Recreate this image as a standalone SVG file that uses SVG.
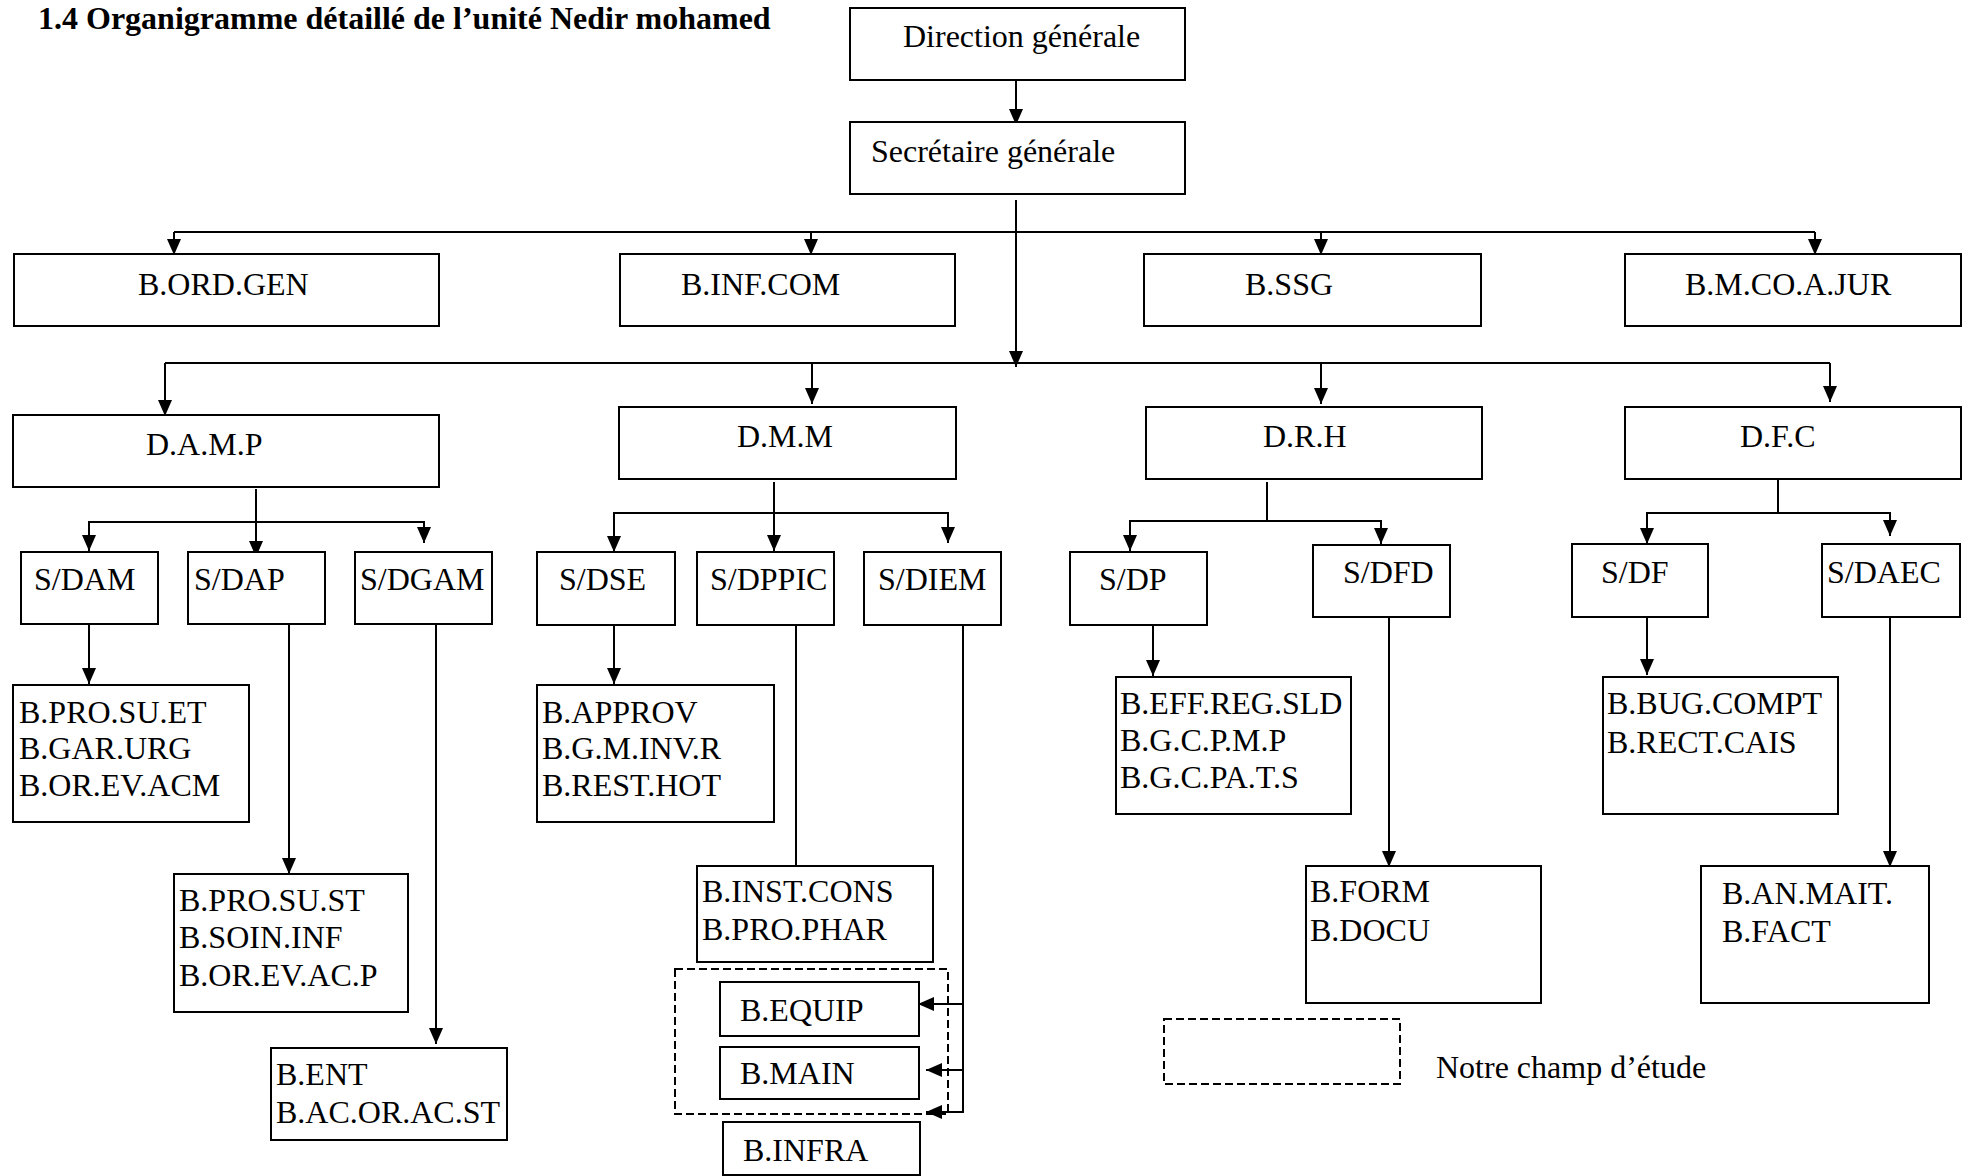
<svg xmlns="http://www.w3.org/2000/svg" width="1969" height="1176" viewBox="0 0 1969 1176">
<style>
  .box { fill: #ffffff; stroke: #000000; stroke-width: 2; }
  .dash { fill: none; stroke: #000000; stroke-width: 2; stroke-dasharray: 8 4; }
  .t { font-family: "Liberation Serif", "Times New Roman", serif; font-size: 32px; fill: #000000; }
  .title { font-family: "Liberation Serif", "Times New Roman", serif; font-size: 32px; font-weight: bold; fill: #000000; }
  .ln { fill: none; stroke: #000000; stroke-width: 2; }
  .arr { fill: none; stroke: #000000; stroke-width: 2; marker-end: url(#ah); }
</style>
<defs>
  <marker id="ah" markerUnits="userSpaceOnUse" markerWidth="16" markerHeight="14" viewBox="0 0 16 14" refX="16" refY="7" orient="auto">
    <path d="M0,0 L16,7 L0,14 Z" fill="#000000"/>
  </marker>
</defs>
<rect width="1969" height="1176" fill="#ffffff"/>

<text class="title" x="38" y="29">1.4 Organigramme détaillé de l’unité Nedir mohamed</text>

<g id="connectors">
  <line class="arr" x1="1016" y1="80" x2="1016" y2="125"/>
  <line class="arr" x1="1016" y1="200" x2="1016" y2="367"/>
  <polyline class="ln" points="174,232 1815,232"/>
  <line class="arr" x1="174" y1="232" x2="174" y2="255"/>
  <line class="arr" x1="811" y1="232" x2="811" y2="255"/>
  <line class="arr" x1="1321" y1="232" x2="1321" y2="255"/>
  <line class="arr" x1="1815" y1="232" x2="1815" y2="255"/>
  <polyline class="ln" points="165,363 1830,363"/>
  <line class="arr" x1="165" y1="363" x2="165" y2="416"/>
  <line class="arr" x1="812" y1="363" x2="812" y2="404"/>
  <line class="arr" x1="1321" y1="363" x2="1321" y2="404"/>
  <line class="arr" x1="1830" y1="363" x2="1830" y2="402"/>

  <line class="arr" x1="256" y1="489" x2="256" y2="557"/>
  <polyline class="ln" points="89,540 89,522 424,522 424,532"/>
  <line class="arr" x1="89" y1="530" x2="89" y2="551"/>
  <line class="arr" x1="424" y1="526" x2="424" y2="543"/>
  <line class="arr" x1="89" y1="624" x2="89" y2="684"/>
  <line class="arr" x1="289" y1="624" x2="289" y2="874"/>
  <line class="arr" x1="436" y1="624" x2="436" y2="1044"/>

  <line class="arr" x1="774" y1="482" x2="774" y2="551"/>
  <polyline class="ln" points="614,530 614,513 948,513 948,522"/>
  <line class="arr" x1="614" y1="525" x2="614" y2="552"/>
  <line class="arr" x1="948" y1="518" x2="948" y2="543"/>
  <line class="arr" x1="614" y1="625" x2="614" y2="684"/>
  <line class="ln" x1="796" y1="625" x2="796" y2="866"/>
  <polyline class="ln" points="963,614 963,1112 926,1112"/>
  <line class="arr" x1="963" y1="1004" x2="918" y2="1004"/>
  <line class="arr" x1="963" y1="1070" x2="926" y2="1070"/>
  <line class="arr" x1="963" y1="1112" x2="926" y2="1112"/>

  <line class="ln" x1="1267" y1="482" x2="1267" y2="521"/>
  <polyline class="ln" points="1130,530 1130,521 1381,521 1381,528"/>
  <line class="arr" x1="1130" y1="526" x2="1130" y2="551"/>
  <line class="arr" x1="1381" y1="524" x2="1381" y2="544"/>
  <line class="arr" x1="1153" y1="623" x2="1153" y2="676"/>
  <line class="arr" x1="1389" y1="606" x2="1389" y2="867"/>

  <line class="ln" x1="1778" y1="473" x2="1778" y2="513"/>
  <polyline class="ln" points="1647,522 1647,513 1890,513 1890,518"/>
  <line class="arr" x1="1647" y1="518" x2="1647" y2="544"/>
  <line class="arr" x1="1890" y1="516" x2="1890" y2="536"/>
  <line class="arr" x1="1647" y1="614" x2="1647" y2="675"/>
  <line class="arr" x1="1890" y1="614" x2="1890" y2="867"/>
</g>

<g id="n-dg"><rect class="box" x="850" y="8" width="335" height="72"/><text class="t" x="903" y="47">Direction générale</text></g>
<g id="n-sg"><rect class="box" x="850" y="122" width="335" height="72"/><text class="t" x="871" y="162">Secrétaire générale</text></g>

<g id="n-bordgen"><rect class="box" x="14" y="254" width="425" height="72"/><text class="t" x="138" y="295">B.ORD.GEN</text></g>
<g id="n-binfcom"><rect class="box" x="620" y="254" width="335" height="72"/><text class="t" x="681" y="295">B.INF.COM</text></g>
<g id="n-bssg"><rect class="box" x="1144" y="254" width="337" height="72"/><text class="t" x="1245" y="295">B.SSG</text></g>
<g id="n-bmcoajur"><rect class="box" x="1625" y="254" width="336" height="72"/><text class="t" x="1685" y="295">B.M.CO.A.JUR</text></g>

<g id="n-damp"><rect class="box" x="13" y="415" width="426" height="72"/><text class="t" x="146" y="455">D.A.M.P</text></g>
<g id="n-dmm"><rect class="box" x="619" y="407" width="337" height="72"/><text class="t" x="737" y="447">D.M.M</text></g>
<g id="n-drh"><rect class="box" x="1146" y="407" width="336" height="72"/><text class="t" x="1263" y="447">D.R.H</text></g>
<g id="n-dfc"><rect class="box" x="1625" y="407" width="336" height="72"/><text class="t" x="1740" y="447">D.F.C</text></g>

<g id="n-sdam"><rect class="box" x="21" y="552" width="137" height="72"/><text class="t" x="34" y="590">S/DAM</text></g>
<g id="n-sdap"><rect class="box" x="188" y="552" width="137" height="72"/><text class="t" x="194" y="590">S/DAP</text></g>
<g id="n-sdgam"><rect class="box" x="355" y="552" width="137" height="72"/><text class="t" x="360" y="590">S/DGAM</text></g>
<g id="n-sdse"><rect class="box" x="537" y="552" width="138" height="73"/><text class="t" x="559" y="590">S/DSE</text></g>
<g id="n-sdppic"><rect class="box" x="697" y="552" width="137" height="73"/><text class="t" x="710" y="590">S/DPPIC</text></g>
<g id="n-sdiem"><rect class="box" x="864" y="552" width="137" height="73"/><text class="t" x="878" y="590">S/DIEM</text></g>
<g id="n-sdp"><rect class="box" x="1070" y="552" width="137" height="73"/><text class="t" x="1099" y="590">S/DP</text></g>
<g id="n-sdfd"><rect class="box" x="1313" y="545" width="137" height="72"/><text class="t" x="1343" y="583">S/DFD</text></g>
<g id="n-sdf"><rect class="box" x="1572" y="544" width="136" height="73"/><text class="t" x="1601" y="583">S/DF</text></g>
<g id="n-sdaec"><rect class="box" x="1822" y="544" width="138" height="73"/><text class="t" x="1827" y="583">S/DAEC</text></g>

<g id="n-bprosuet"><rect class="box" x="13" y="685" width="236" height="137"/>
  <text class="t" x="19" y="723">B.PRO.SU.ET</text><text class="t" x="19" y="759">B.GAR.URG</text><text class="t" x="19" y="796">B.OR.EV.ACM</text></g>
<g id="n-bapprov"><rect class="box" x="537" y="685" width="237" height="137"/>
  <text class="t" x="542" y="723">B.APPROV</text><text class="t" x="542" y="759">B.G.M.INV.R</text><text class="t" x="542" y="796">B.REST.HOT</text></g>
<g id="n-beff"><rect class="box" x="1116" y="677" width="235" height="137"/>
  <text class="t" x="1120" y="714">B.EFF.REG.SLD</text><text class="t" x="1120" y="751">B.G.C.P.M.P</text><text class="t" x="1120" y="788">B.G.C.PA.T.S</text></g>
<g id="n-bbug"><rect class="box" x="1603" y="677" width="235" height="137"/>
  <text class="t" x="1607" y="714">B.BUG.COMPT</text><text class="t" x="1607" y="753">B.RECT.CAIS</text></g>

<g id="n-bprosust"><rect class="box" x="174" y="874" width="234" height="138"/>
  <text class="t" x="179" y="911">B.PRO.SU.ST</text><text class="t" x="179" y="948">B.SOIN.INF</text><text class="t" x="179" y="986">B.OR.EV.AC.P</text></g>
<g id="n-binst"><rect class="box" x="697" y="866" width="236" height="96"/>
  <text class="t" x="702" y="902">B.INST.CONS</text><text class="t" x="702" y="940">B.PRO.PHAR</text></g>
<g id="n-bform"><rect class="box" x="1306" y="866" width="235" height="137"/>
  <text class="t" x="1310" y="902">B.FORM</text><text class="t" x="1310" y="941">B.DOCU</text></g>
<g id="n-banmait"><rect class="box" x="1701" y="866" width="228" height="137"/>
  <text class="t" x="1722" y="904">B.AN.MAIT.</text><text class="t" x="1722" y="942">B.FACT</text></g>
<g id="n-bent"><rect class="box" x="271" y="1048" width="236" height="92"/>
  <text class="t" x="276" y="1085">B.ENT</text><text class="t" x="276" y="1123">B.AC.OR.AC.ST</text></g>

<g id="n-study"><rect class="dash" x="675" y="969" width="273" height="145"/></g>
<g id="n-bequip"><rect class="box" x="720" y="982" width="199" height="54"/><text class="t" x="740" y="1021">B.EQUIP</text></g>
<g id="n-bmain"><rect class="box" x="720" y="1047" width="199" height="52"/><text class="t" x="740" y="1084">B.MAIN</text></g>
<g id="n-binfra"><rect class="box" x="723" y="1122" width="197" height="53"/><text class="t" x="743" y="1161">B.INFRA</text></g>

<g id="legend"><rect class="dash" x="1164" y="1019" width="236" height="65"/><text class="t" x="1436" y="1078">Notre champ d’étude</text></g>
</svg>
